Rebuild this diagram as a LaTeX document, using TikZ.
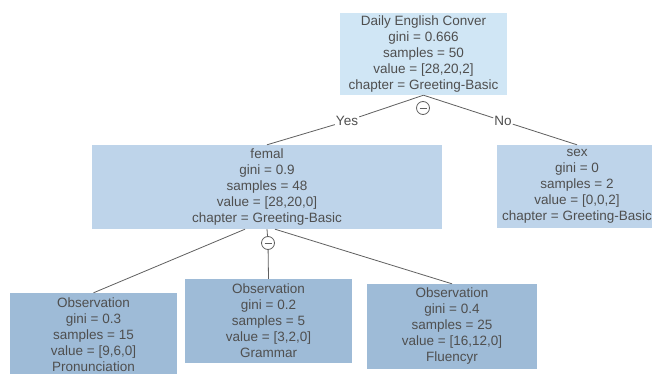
\documentclass[tikz,border=0pt]{standalone}
\usepackage{fontspec}
\setmainfont{Liberation Sans}
\definecolor{rootc}{HTML}{D0E6F5}
\definecolor{midc}{HTML}{BED4EA}
\definecolor{leafc}{HTML}{9EBBD7}
\definecolor{txt}{HTML}{4F4F4F}
\definecolor{edgec}{HTML}{606060}
\begin{document}
\begin{tikzpicture}[x=1pt,y=-1pt,
  treebox/.style={draw=none, text=txt, align=center, inner sep=0pt, font=\fontsize{13.5}{16}\selectfont},
  edgeline/.style={draw=edgec, line width=0.8pt},
  elabel/.style={fill=white, text=txt, inner sep=1pt, font=\fontsize{13.5}{16}\selectfont},
  toggle/.style={circle, draw=edgec, fill=white, minimum size=13pt, inner sep=0pt, line width=0.8pt}]
\clip (0,0) rectangle (652,374);
\fill[white] (0,0) rectangle (652,374);
% boxes
\node[treebox, fill=rootc, minimum width=167pt, minimum height=82pt] (root) at (423.5,54)
  {Daily English Conver\\gini = 0.666\\samples = 50\\value = [28,20,2]\\chapter = Greeting-Basic};
\node[treebox, fill=midc, minimum width=350pt, minimum height=84pt] (femal) at (267,187)
  {femal\\gini = 0.9\\samples = 48\\value = [28,20,0]\\chapter = Greeting-Basic};
\node[treebox, fill=midc, minimum width=160pt, minimum height=83pt] (sex) at (577,186.5)
  {sex\\gini = 0\\samples = 2\\value = [0,0,2]\\chapter = Greeting-Basic};
\node[treebox, fill=leafc, minimum width=167pt, minimum height=84pt] (leafa) at (93.5,335)
  {Observation\\gini = 0.3\\samples = 15\\value = [9,6,0]\\Pronunciation};
\node[treebox, fill=leafc, minimum width=167pt, minimum height=84pt] (leafb) at (268.5,321)
  {Observation\\gini = 0.2\\samples = 5\\value = [3,2,0]\\Grammar};
\node[treebox, fill=leafc, minimum width=170pt, minimum height=85pt] (leafc) at (452,326.5)
  {Observation\\gini = 0.4\\samples = 25\\value = [16,12,0]\\Fluencyr};
% labels and toggles
\node[elabel] (yes) at (347,121) {Yes};
\node[elabel] (no) at (503,121) {No};
\node[toggle] (tga) at (423,108) {};
\node[toggle] (tgb) at (268,243) {};
\draw[edgec, line width=0.8pt] ([xshift=-3.5pt]tga.center) -- ([xshift=3.5pt]tga.center);
\draw[edgec, line width=0.8pt] ([xshift=-3.5pt]tgb.center) -- ([xshift=3.5pt]tgb.center);
% edges
\draw[edgeline] (root.south) -- (yes) -- (femal.north);
\draw[edgeline] (root.south) -- (no) -- (sex.north);
\draw[edgeline] ([xshift=-22pt]femal.south) -- (leafa.north);
\draw[edgeline] (femal.south) -- (tgb) -- (leafb.north);
\draw[edgeline] ([xshift=8pt]femal.south) -- (leafc.north);
\end{tikzpicture}
\end{document}
